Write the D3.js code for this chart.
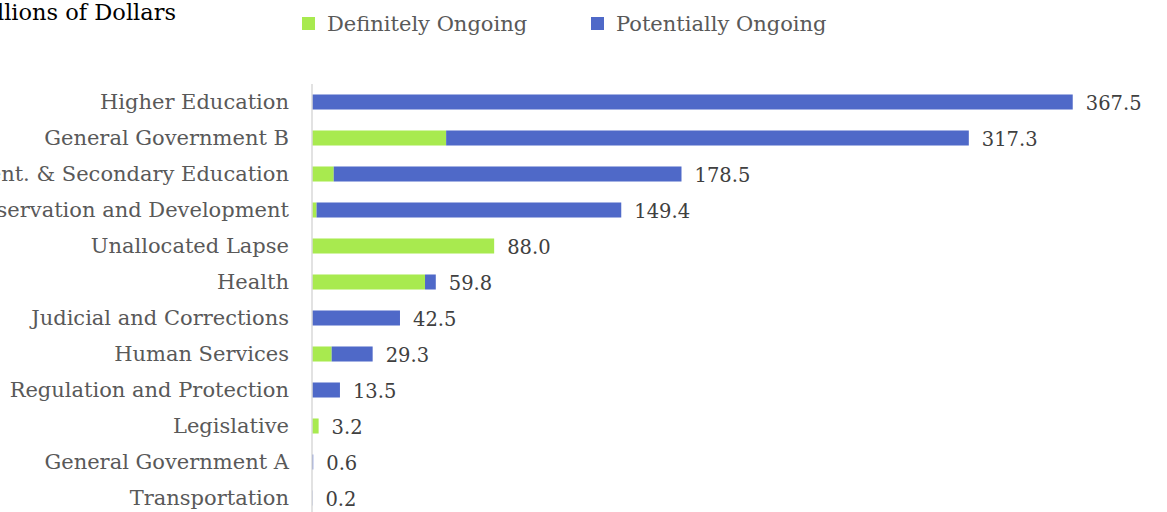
<!DOCTYPE html>
<html>
<head>
<meta charset="utf-8">
<script src="https://cdn.jsdelivr.net/npm/d3@7"></script>
<style>
  html, body { margin: 0; padding: 0; background: #fff; overflow: hidden; }
  svg { display: block; }
  text { font-family: "DejaVu Serif", "Liberation Serif", serif; }
</style>
</head>
<body>
<svg id="chart" width="1167" height="512"></svg>
<script>
const categories = [
  "Higher Education",
  "General Government B",
  "Element. & Secondary Education",
  "Conservation and Development",
  "Unallocated Lapse",
  "Health",
  "Judicial and Corrections",
  "Human Services",
  "Regulation and Protection",
  "Legislative",
  "General Government A",
  "Transportation"
];
const definitelyOngoing  = [0, 64.8, 10.5, 2.2, 88.0, 54.6, 0, 9.5, 0, 3.2, 0, 0];
const potentiallyOngoing = [367.5, 252.5, 168.0, 147.2, 0, 5.2, 42.5, 19.8, 13.5, 0, 0.6, 0.2];
const totalLabels = ["367.5", "317.3", "178.5", "149.4", "88.0", "59.8", "42.5", "29.3", "13.5", "3.2", "0.6", "0.2"];
const seriesNames = ["Definitely Ongoing", "Potentially Ongoing"];
const titleText = "Millions of Dollars";

const colors = { "Definitely Ongoing": "#A8EA4F", "Potentially Ongoing": "#4F69C8" };

const svg = d3.select("#chart");

const rows = categories.map((c, i) => ({
  category: c,
  "Definitely Ongoing": definitelyOngoing[i],
  "Potentially Ongoing": potentiallyOngoing[i],
  label: totalLabels[i]
}));

const x = d3.scaleLinear().domain([0, 400]).range([312, 1140]);
const y = d3.scaleBand().domain(categories).range([84, 516])
  .paddingInner(0.583).paddingOuter(0.2915);

const stacked = d3.stack().keys(seriesNames)(rows);

// bars
svg.append("g").selectAll("g")
  .data(stacked)
  .join("g")
  .attr("fill", d => colors[d.key])
  .selectAll("rect")
  .data(d => d)
  .join("rect")
  .attr("x", d => x(d[0]))
  .attr("y", d => y(d.data.category))
  .attr("width", d => Math.max(0, x(d[1]) - x(d[0])))
  .attr("height", y.bandwidth());

// vertical axis line with category labels
const yAxis = d3.axisLeft(y).tickSize(0).tickPadding(23);
const gy = svg.append("g").attr("transform", `translate(${x(0)},0)`).call(yAxis);
gy.select(".domain").attr("stroke", "#D9D9D9").attr("stroke-width", 1.5)
  .attr("d", `M0,84V512`);
gy.selectAll("text")
  .attr("fill", "#595959")
  .style("font-size", "21px")
  .style("font-family", '"DejaVu Serif", serif');

// value labels
svg.append("g").selectAll("text")
  .data(rows)
  .join("text")
  .attr("x", d => x(d["Definitely Ongoing"] + d["Potentially Ongoing"]) + 13)
  .attr("y", d => y(d.category) + y.bandwidth() / 2)
  .attr("dy", "0.4em")
  .attr("fill", "#404040")
  .style("font-size", "19.5px")
  .text(d => d.label);

// title (partially cut off at left edge, as in the original)
svg.append("text")
  .attr("x", 176)
  .attr("y", 20)
  .attr("text-anchor", "end")
  .attr("fill", "#000")
  .style("font-size", "22.5px")
  .text(titleText);

// legend
const legend = svg.append("g");
const legendX = [302, 591];
seriesNames.forEach((name, i) => {
  const g = legend.append("g").attr("transform", `translate(${legendX[i]},0)`);
  g.append("rect").attr("x", 0).attr("y", 17).attr("width", 13).attr("height", 13)
    .attr("fill", colors[name]);
  g.append("text").attr("x", 25).attr("y", 23.5).attr("dy", "0.38em")
    .attr("fill", "#595959").style("font-size", "21px").text(name);
});
</script>
</body>
</html>
